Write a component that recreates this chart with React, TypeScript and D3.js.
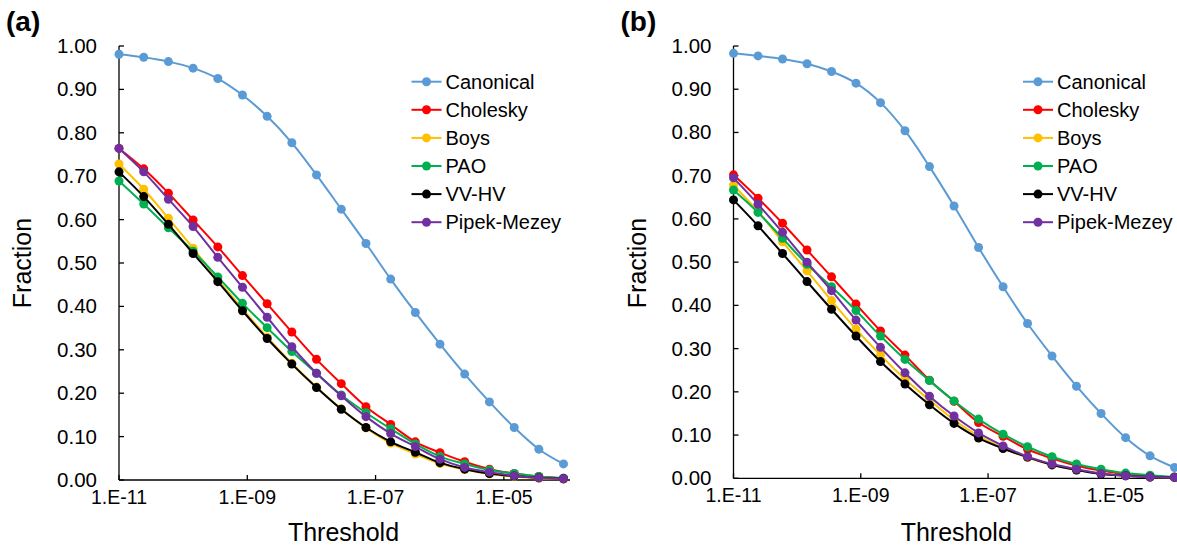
import * as d3 from "d3";

// thresholds (x values, shared by both panels)
const thresholds = [
  1.0e-11, 2.43e-11, 5.89e-11, 1.43e-10, 3.47e-10, 8.41e-10, 2.04e-9, 4.95e-9,
  1.2e-8, 2.92e-8, 7.08e-8, 1.72e-7, 4.17e-7, 1.01e-6, 2.45e-6, 5.96e-6,
  1.45e-5, 3.51e-5, 8.51e-5,
];

const methods = ["Canonical", "Cholesky", "Boys", "PAO", "VV-HV", "Pipek-Mezey"];
const colors = ["#5B9BD5", "#FF0000", "#FFC000", "#00B050", "#000000", "#7030A0"];

// panel (a)
const canonicalA = [0.981, 0.974, 0.964, 0.949, 0.925, 0.887, 0.838, 0.777, 0.703, 0.624, 0.545, 0.463, 0.386, 0.313, 0.244, 0.18, 0.121, 0.071, 0.037];
const choleskyA = [0.764, 0.717, 0.661, 0.599, 0.537, 0.471, 0.406, 0.341, 0.278, 0.222, 0.169, 0.128, 0.088, 0.063, 0.042, 0.025, 0.015, 0.008, 0.004];
const boysA = [0.728, 0.67, 0.603, 0.534, 0.462, 0.394, 0.329, 0.269, 0.214, 0.164, 0.12, 0.085, 0.06, 0.038, 0.024, 0.014, 0.008, 0.004, 0.002];
const paoA = [0.689, 0.636, 0.581, 0.527, 0.468, 0.407, 0.351, 0.296, 0.246, 0.196, 0.155, 0.118, 0.083, 0.054, 0.037, 0.023, 0.015, 0.008, 0.004];
const vvhvA = [0.71, 0.653, 0.589, 0.522, 0.457, 0.39, 0.326, 0.267, 0.213, 0.163, 0.121, 0.088, 0.064, 0.04, 0.025, 0.015, 0.009, 0.005, 0.003];
const pipekA = [0.764, 0.71, 0.647, 0.584, 0.513, 0.444, 0.375, 0.307, 0.246, 0.194, 0.146, 0.107, 0.077, 0.048, 0.029, 0.018, 0.01, 0.005, 0.003];

// panel (b)
const canonicalB = [0.983, 0.977, 0.97, 0.959, 0.941, 0.914, 0.869, 0.804, 0.721, 0.63, 0.534, 0.443, 0.358, 0.283, 0.213, 0.15, 0.094, 0.052, 0.025];
const choleskyB = [0.702, 0.648, 0.59, 0.528, 0.466, 0.403, 0.341, 0.285, 0.227, 0.178, 0.129, 0.097, 0.067, 0.046, 0.029, 0.018, 0.01, 0.005, 0.003];
const boysB = [0.678, 0.617, 0.547, 0.48, 0.411, 0.345, 0.285, 0.229, 0.181, 0.135, 0.098, 0.07, 0.048, 0.031, 0.019, 0.011, 0.006, 0.003, 0.002];
const paoB = [0.667, 0.615, 0.555, 0.495, 0.443, 0.388, 0.329, 0.275, 0.226, 0.179, 0.137, 0.102, 0.073, 0.05, 0.033, 0.021, 0.012, 0.007, 0.003];
const vvhvB = [0.644, 0.584, 0.52, 0.455, 0.391, 0.329, 0.27, 0.218, 0.17, 0.127, 0.093, 0.069, 0.049, 0.031, 0.019, 0.01, 0.006, 0.003, 0.002];
const pipekB = [0.695, 0.634, 0.569, 0.5, 0.434, 0.366, 0.303, 0.244, 0.19, 0.144, 0.105, 0.075, 0.05, 0.033, 0.021, 0.011, 0.006, 0.003, 0.002];

const xTicks = [1e-11, 1e-9, 1e-7, 1e-5];
const xTickLabels = ["1.E-11", "1.E-09", "1.E-07", "1.E-05"];
const yTicks = [0, 0.1, 0.2, 0.3, 0.4, 0.5, 0.6, 0.7, 0.8, 0.9, 1.0];

const FONT = "'Liberation Sans', Arial, sans-serif";

type PanelProps = {
  label: string;
  series: number[][];
  x0: number;
  x1: number;
  y0: number;
  y1: number;
  legendX: number;
};

function Panel({ label, series, x0, x1, y0, y1, legendX }: PanelProps) {
  const x = d3.scaleLog().domain([1e-11, 1e-4]).range([x0, x1]);
  const y = d3.scaleLinear().domain([0, 1]).range([y0, y1]);
  const line = d3
    .line<number>()
    .x((_, i) => x(thresholds[i]))
    .y((d) => y(d))
    .curve(d3.curveCatmullRom.alpha(0.5));

  const midX = (x0 + x1) / 2;
  return (
    <g>
      <text x={x0 - 113} y={31} fontSize={28} fontWeight="bold" fontFamily={FONT}>
        {label}
      </text>
      {/* y axis */}
      <line x1={x0} x2={x0} y1={y0} y2={y1} stroke="#000" strokeWidth={1.3} />
      {yTicks.map((t) => (
        <g key={t}>
          <line x1={x0} x2={x0 + 5} y1={y(t)} y2={y(t)} stroke="#000" strokeWidth={1.3} />
          <text
            x={x0 - 22}
            y={y(t) + 7}
            fontSize={20.5}
            textAnchor="end"
            fontFamily={FONT}
            fill="#000"
          >
            {d3.format(".2f")(t)}
          </text>
        </g>
      ))}
      {/* x axis */}
      <line x1={x0} x2={x1 + 2} y1={y0} y2={y0} stroke="#000" strokeWidth={1.3} />
      {xTicks.map((t, i) => (
        <g key={t}>
          <line x1={x(t)} x2={x(t)} y1={y0} y2={y0 - 5} stroke="#000" strokeWidth={1.3} />
          <text x={x(t)} y={y0 + 24} fontSize={19.5} textAnchor="middle" fontFamily={FONT}>
            {xTickLabels[i]}
          </text>
        </g>
      ))}
      <text x={midX} y={541} fontSize={25} textAnchor="middle" fontFamily={FONT}>
        Threshold
      </text>
      <text
        transform={`translate(${x0 - 88},${263}) rotate(-90)`}
        fontSize={25}
        textAnchor="middle"
        fontFamily={FONT}
      >
        Fraction
      </text>
      {series.map((s, si) => (
        <g key={methods[si]}>
          <path d={line(s) ?? ""} fill="none" stroke={colors[si]} strokeWidth={2} />
          {s.map((v, i) => (
            <circle key={i} cx={x(thresholds[i])} cy={y(v)} r={4.5} fill={colors[si]} />
          ))}
        </g>
      ))}
      {/* legend */}
      {methods.map((m, i) => {
        const ly = 81.7 + i * 28.1;
        return (
          <g key={m}>
            <line x1={legendX} x2={legendX + 30} y1={ly} y2={ly} stroke={colors[i]} strokeWidth={2} />
            <circle cx={legendX + 15} cy={ly} r={4.5} fill={colors[i]} />
            <text x={legendX + 34} y={ly + 7} fontSize={20} fontFamily={FONT}>
              {m}
            </text>
          </g>
        );
      })}
    </g>
  );
}

export default function App() {
  return (
    <svg
      width={1177}
      height={545}
      style={{ position: "absolute", left: 0, top: 0, background: "#fff" }}
    >
      <rect width={1177} height={545} fill="#fff" />
      <Panel
        label="(a)"
        series={[canonicalA, choleskyA, boysA, paoA, vvhvA, pipekA]}
        x0={119}
        x1={568}
        y0={480}
        y1={46}
        legendX={411.5}
      />
      <Panel
        label="(b)"
        series={[canonicalB, choleskyB, boysB, paoB, vvhvB, pipekB]}
        x0={733.5}
        x1={1179}
        y0={478.3}
        y1={46}
        legendX={1023}
      />
    </svg>
  );
}
